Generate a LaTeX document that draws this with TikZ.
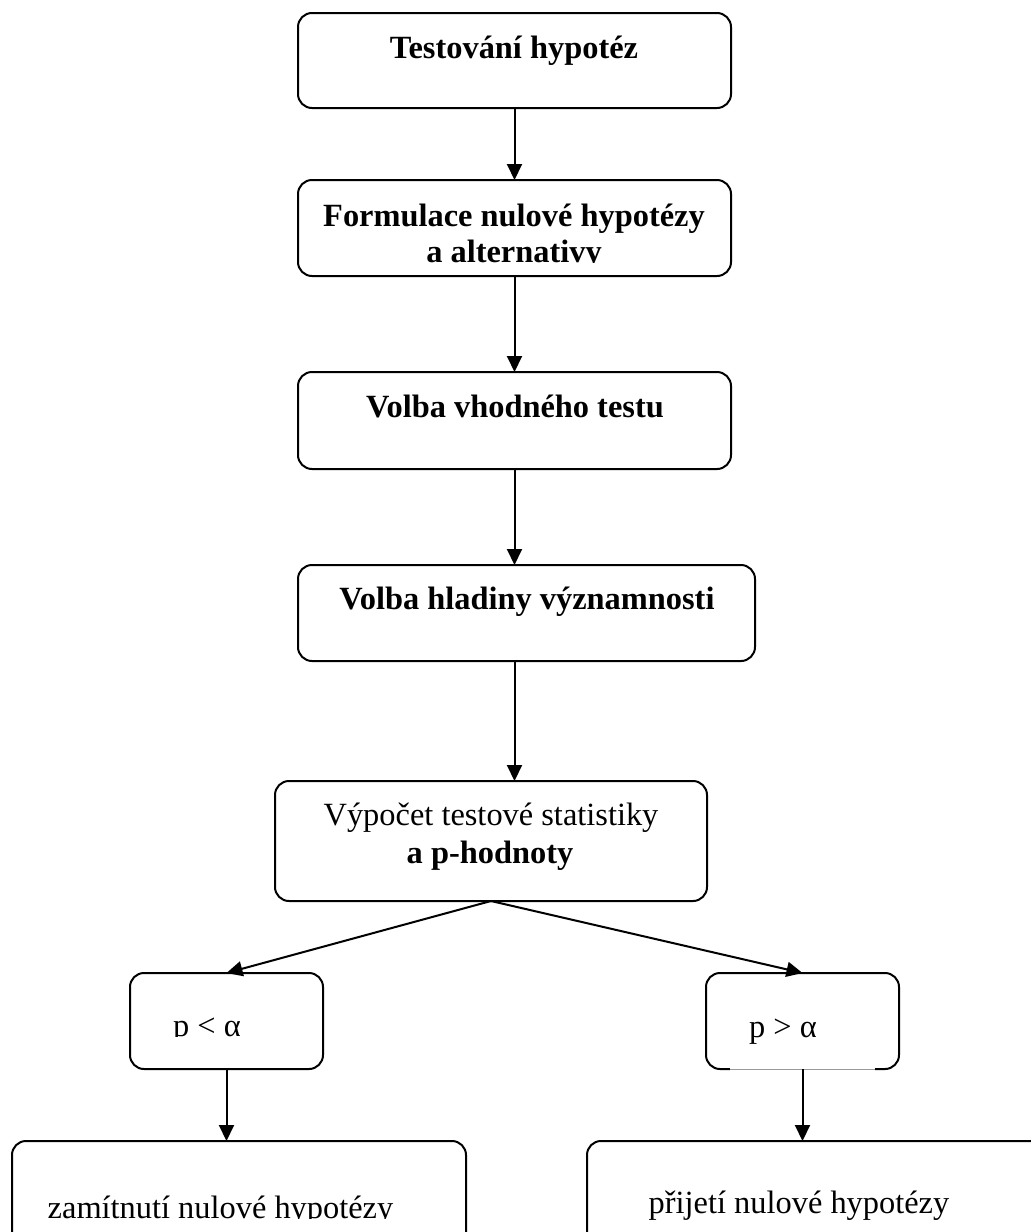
\documentclass[tikz,border=0pt]{standalone}
\usepackage{fontspec}
\setmainfont{Liberation Serif}
\usetikzlibrary{arrows.meta}
\begin{document}
\begin{tikzpicture}[x=0.5pt,y=-0.5pt,
  box/.style={draw, line width=1pt, rounded corners=7pt, inner sep=0pt, outer sep=0pt},
  lbl/.style={anchor=base, inner sep=0pt, font=\fontsize{16.2}{18}\selectfont},
  blbl/.style={anchor=base, inner sep=0pt, font=\fontsize{16.2}{18}\selectfont\bfseries},
  flow/.style={draw, line width=1pt, -{Triangle[width=7.5pt,length=8pt]}}]
\clip (0,0) rectangle (1031,1232);

% process boxes
\node[box, minimum width=216.5pt, minimum height=47.5pt] (top)  at (514.5,60.5) {};
\node[box, minimum width=216.5pt, minimum height=48pt]   (form) at (514.5,228) {};
\node[box, minimum width=216.5pt, minimum height=48.5pt] (vv)   at (514.5,420.5) {};
\node[box, minimum width=228.5pt, minimum height=48pt]   (vh)   at (526.5,613) {};
\node[box, minimum width=216pt,   minimum height=60pt]   (vyp)  at (491,841) {};
\node[box, minimum width=96.5pt,  minimum height=48pt]   (plt)  at (226.5,1021) {};
\node[box, minimum width=96.5pt,  minimum height=48pt]   (pgt)  at (802.5,1021) {};
\node[box, minimum width=227pt,   minimum height=64.5pt] (rej)  at (239,1205.5) {};
\node[box, minimum width=241.5pt, minimum height=64.5pt] (acc)  at (828.5,1205.5) {};

% faint middle part of the lower edge of the right decision box
\draw[white, line width=1.6pt] (730,1069) -- (875,1069);
\draw[gray!80, line width=0.4pt] (730,1069) -- (875,1069);

% labels
\node[blbl] (topT) at (514,58) {Testování hypotéz};
\node[blbl] (formA) at (514,226) {Formulace nulové hypotézy};
\begin{scope}
  \clip (298,232) rectangle (731,262.5);
  \node[blbl] (formB) at (514,262) {a alternativy};
\end{scope}
\node[blbl] (vvT) at (515,417) {Volba vhodného testu};
\node[blbl] (vhT) at (527,609) {Volba hladiny významnosti};
\node[lbl] (vypA) at (491,825) {Výpočet testové statistiky};
\node[blbl] (vypB) at (490,863) {a p-hodnoty};
\begin{scope}
  \clip (130,990) rectangle (323,1036.5);
  \node[lbl] (pltT) at (207,1036) {p < α};
\end{scope}
\node[lbl] (pgtT) at (783,1037) {p > α};
\begin{scope}
  \clip (12,1160) rectangle (466,1218.5);
  \node[lbl] (rejT) at (220.5,1218) {zamítnutí nulové hypotézy};
\end{scope}
\node[lbl] (accT) at (799,1213) {přijetí nulové hypotézy};

% connectors
\draw[flow] (top.south) -- (form.north);
\draw[flow] (form.south) -- (vv.north);
\draw[flow] (vv.south) -- (vv.south |- vh.north);
\draw[flow] (vv.south |- vh.south) -- (vv.south |- vyp.north);
\draw[flow] (vyp.south) -- (plt.north);
\draw[flow] (vyp.south) -- (pgt.north);
\draw[flow] (plt.south) -- (plt.south |- rej.north);
\draw[flow] (pgt.south) -- (pgt.south |- acc.north);
\end{tikzpicture}
\end{document}
